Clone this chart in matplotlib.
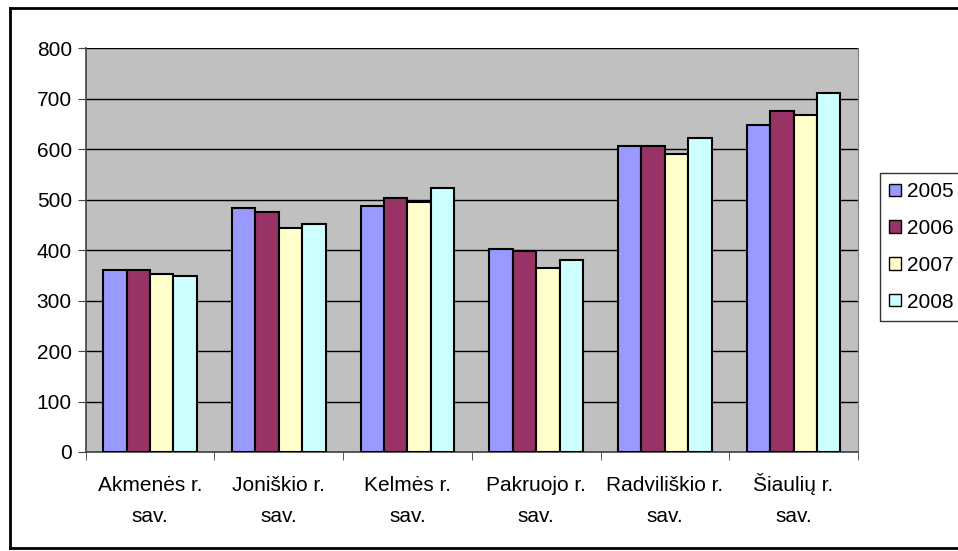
import numpy as np
import matplotlib
matplotlib.use("Agg")
import matplotlib.pyplot as plt
import matplotlib.transforms as mtransforms
from matplotlib.patches import Rectangle
from matplotlib.lines import Line2D

plt.rcParams['font.family'] = ['Liberation Sans', 'DejaVu Sans']

categories = ["Akmenės r.\nsav.", "Joniškio r.\nsav.", "Kelmės r.\nsav.",
              "Pakruojo r.\nsav.", "Radviliškio r.\nsav.", "Šiaulių r.\nsav."]
years = ["2005", "2006", "2007", "2008"]
v2005 = [360, 483, 488, 403, 607, 649]
v2006 = [360, 476, 503, 399, 607, 676]
v2007 = [352, 444, 496, 364, 591, 668]
v2008 = [348, 452, 523, 380, 623, 711]
colors = ["#9999FF", "#993366", "#FFFFCC", "#CCFFFF"]

series = [v2005, v2006, v2007, v2008]

fig = plt.figure(figsize=(9.58, 5.51), dpi=100)
ax = fig.add_axes([0.0895, 0.1797, 0.806, 0.7326])
ax.set_facecolor("#C0C0C0")

x = np.arange(len(categories))
w = 1 / 5.5
for i, (vals, c) in enumerate(zip(series, colors)):
    ax.bar(x + (i - 1.5) * w, vals, w, color=c, edgecolor="black",
           linewidth=1.5, label=years[i], zorder=3)

ax.set_xlim(-0.5, len(categories) - 0.5)
ax.set_ylim(0, 800)
ax.set_yticks(range(0, 801, 100))
ax.yaxis.grid(True, color="black", linewidth=1, zorder=0)
ax.set_axisbelow(True)

# category labels, two lines each, placed on common baselines
ax.set_xticks(x)
ax.set_xticklabels([])
ax.tick_params(axis="x", length=0)
base = ax.get_xaxis_transform()
for xi, lab in zip(x, categories):
    for k, line in enumerate(lab.split("\n")):
        tr = mtransforms.offset_copy(base, fig=fig, x=0, y=-(39 + 31 * k), units="dots")
        ax.text(xi, 0, line, transform=tr, ha="center", va="baseline", fontsize=15)

ax.set_xticks(np.arange(-0.5, len(categories), 1), minor=True)
ax.tick_params(axis="x", which="minor", length=6, color="#404040", direction="out")
ax.tick_params(axis="y", labelsize=15, length=6, color="#404040", pad=4)

for s in ["left", "bottom"]:
    ax.spines[s].set_color("#404040")
    ax.spines[s].set_linewidth(1.2)
ax.spines["top"].set_visible(False)
ax.spines["right"].set_color("#808080")

handles = [Rectangle((0, 0), 1, 1, facecolor=c, edgecolor="black", linewidth=1)
           for c in colors]
leg = fig.legend(handles, years, loc="upper left", bbox_to_anchor=(0.9186, 0.686),
                 bbox_transform=fig.transFigure, fontsize=15, frameon=True,
                 fancybox=False, edgecolor="black", borderaxespad=0,
                 handlelength=0.55, handleheight=0.55, handletextpad=0.3,
                 labelspacing=0.85, borderpad=0.45)
leg.get_frame().set_linewidth(1)

# outer chart border
fig.add_artist(Line2D([10 / 958, 10 / 958], [1 - 8 / 551, 1 - 548 / 551],
                      transform=fig.transFigure, color="black", linewidth=2))
fig.add_artist(Line2D([10 / 958, 1], [1 - 8 / 551, 1 - 8 / 551],
                      transform=fig.transFigure, color="black", linewidth=2))
fig.add_artist(Line2D([10 / 958, 1], [1 - 548 / 551, 1 - 548 / 551],
                      transform=fig.transFigure, color="black", linewidth=2))

fig.savefig("out.png", dpi=100)
